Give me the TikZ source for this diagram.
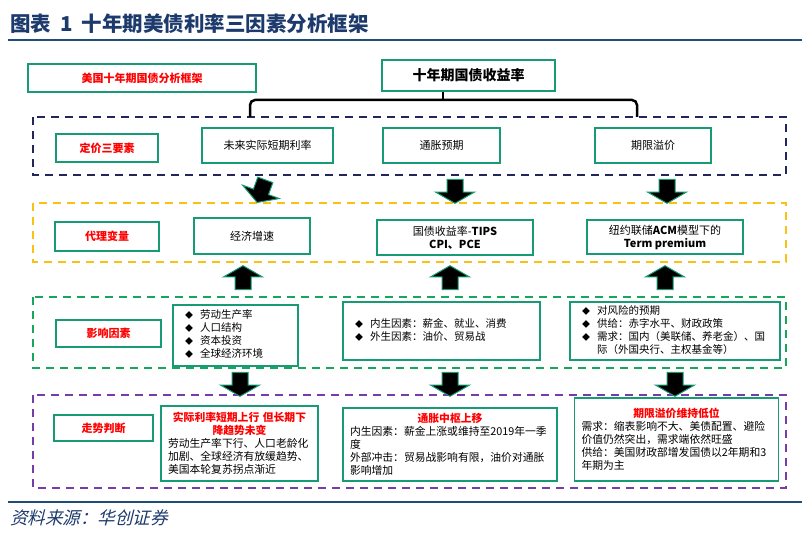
\documentclass[tikz,border=0pt]{standalone}
\usepackage{fontspec}
\setmainfont{Noto Sans CJK SC}
\newfontfamily\srcfont[FakeSlant=0.25]{Noto Sans CJK SC}
\usetikzlibrary{shapes.arrows,calc}
\definecolor{boxgreen}{RGB}{22,155,116}
\definecolor{dnavy}{RGB}{34,38,92}
\definecolor{dgold}{RGB}{250,192,20}
\definecolor{dgreen}{RGB}{24,165,92}
\definecolor{dpurple}{RGB}{118,60,168}
\definecolor{ruleblue}{RGB}{30,78,120}
\definecolor{titleblue}{RGB}{28,58,108}
\newcommand\diam{{\fontsize{8}{8}\selectfont ◆}}
\newcommand\redhead[1]{\makebox[\hsize]{\bfseries\color{red}#1}}
\tikzset{
  box/.style={draw=boxgreen,line width=1.5pt,inner sep=2pt,align=center,font=\fontsize{11}{13}\selectfont},
  lbl/.style={box,text=red,font=\fontsize{11}{13}\selectfont\bfseries},
  lst/.style={box,align=left,inner xsep=12pt,font=\fontsize{10.5}{13}\selectfont},
  jdg/.style={box,align=left,inner xsep=7pt,font=\fontsize{10.8}{13}\selectfont},
  frm/.style={draw=#1,dash pattern=on 8pt off 6pt,line width=1.8pt},
  blk/.style={single arrow,fill=black,draw=boxgreen,line width=1pt,minimum height=24pt,inner xsep=0pt,inner ysep=7.5pt,single arrow head extend=11.5pt,single arrow tip angle=120},
  brk/.style={line width=2.5pt,rounded corners=5pt},
  rule/.style={draw=ruleblue,line width=2.7pt},
}
\begin{document}
\begin{tikzpicture}[x=1pt,y=-1pt]
\useasboundingbox (0,0) rectangle (811,534);
% title and rules
\node[anchor=west,inner sep=0pt,text=titleblue,font=\fontsize{20.5}{24}\selectfont\bfseries] (ttl) at (10,24) {图表\hspace{9pt}1\hspace{9pt}十年期美债利率三因素分析框架};
\draw[rule] (8,40) -- (802,40);
\draw[rule] (8,502) -- (802,502);
\node[anchor=west,inner sep=0pt,text=titleblue,font=\srcfont\fontsize{17.5}{20}\selectfont] (src) at (10,518) {资料来源：华创证券};
% dashed frames
\draw[frm=dnavy] (33,117) rectangle (786,175);
\draw[frm=dgold] (33,203) rectangle (786,262);
\draw[frm=dgreen] (33,297) rectangle (786,368);
\draw[frm=dpurple] (33,395) rectangle (786,488);
% top
\node[lbl,minimum width=228pt,minimum height=28pt] (frame) at (142,78) {美国十年期国债分析框架};
\node[box,font=\fontsize{14}{16}\selectfont\bfseries,minimum width=173pt,minimum height=31pt] (yield) at (468.5,75.5) {十年期国债收益率};
\coordinate (stem) at (443,100); \coordinate (bl) at (250,117); \coordinate (br) at (637,117);
\draw[brk] (stem |- yield.south) -- (stem);
\draw[brk] (bl) |- (stem) -| (br);
% row 1
\node[lbl,minimum width=102pt,minimum height=28pt] (l1) at (107,148) {定价三要素};
\node[box,minimum width=131pt,minimum height=35pt] (f1) at (267.5,145.5) {未来实际短期利率};
\node[box,minimum width=117pt,minimum height=35pt] (f2) at (441.5,145.5) {通胀预期};
\node[box,minimum width=116pt,minimum height=35pt] (f3) at (653,145.5) {期限溢价};
% row 2
\node[lbl,minimum width=104pt,minimum height=29pt] (l2) at (107,236.5) {代理变量};
\node[box,minimum width=116pt,minimum height=36pt] (p1) at (252,236) {经济增速};
\node[box,minimum width=156pt,minimum height=35pt] (p2) at (455,237.5) {国债收益率-\textbf{TIPS}\\\textbf{CPI、PCE}};
\node[box,minimum width=156pt,minimum height=34pt] (p3) at (665,237) {纽约联储\textbf{ACM}模型下的\\\textbf{Term premium}};
% row 3
\node[lbl,minimum width=105pt,minimum height=27pt] (l3) at (108.5,333.5) {影响因素};
\node[lst,text width=101pt,minimum height=61pt] (d1) at (235.5,335.5) {\begin{tabular}{@{}l@{\hspace{7pt}}l@{}}\diam&劳动生产率\\\diam&人口结构\\\diam&资本投资\\\diam&全球经济环境\end{tabular}};
\node[lst,text width=173pt,minimum height=58pt] (d2) at (441.5,331) {\begin{tabular}{@{}l@{\hspace{7pt}}l@{}}\diam&内生因素：薪金、就业、消费\\\diam&外生因素：油价、贸易战\end{tabular}};
\node[lst,text width=186pt,minimum height=58pt] (d3) at (675,331) {\begin{tabular}{@{}l@{\hspace{7pt}}l@{}}\diam&对风险的预期\\\diam&供给：赤字水平、财政政策\\\diam&需求：国内（美联储、养老金）、国\\&际（外国央行、主权基金等）\end{tabular}};
% row 4
\node[lbl,minimum width=99pt,minimum height=26pt] (l4) at (103.5,428) {走势判断};
\node[jdg,text width=143pt,minimum height=75pt] (j1) at (239.5,443.5) {\redhead{实际利率短期上行 但长期下}\\\redhead{降趋势未变}\\劳动生产率下行、人口老龄化\\加剧、全球经济有放缓趋势、\\美国本轮复苏拐点渐近};
\node[jdg,text width=200pt,minimum height=73pt] (j2) at (450,444.5) {\redhead{通胀中枢上移}\\内生因素：薪金上涨或维持至2019年一季\\度\\外部冲击：贸易战影响有限，油价对通胀\\影响增加};
\node[jdg,text width=190pt,minimum height=83pt] (j3) at (676.5,439.5) {\redhead{期限溢价维持低位}\\需求：缩表影响不大、美债配置、避险\\价值仍然突出，需求端依然旺盛\\供给：美国财政部增发国债以2年期和3\\年期为主};
% block arrows
\node[blk,rotate=-110] (a11) at (262,189) {};
\node[blk,rotate=-90] (a12) at (455,189) {};
\node[blk,rotate=-90] (a13) at (667,189) {};
\node[blk,rotate=90] (a21) at (243,280) {};
\node[blk,rotate=90] (a22) at (450,280) {};
\node[blk,rotate=90] (a23) at (665,280) {};
\node[blk,rotate=-90] (a31) at (240,382) {};
\node[blk,rotate=-90] (a32) at (450,382) {};
\node[blk,rotate=-90] (a33) at (675,382) {};
\end{tikzpicture}
\end{document}
